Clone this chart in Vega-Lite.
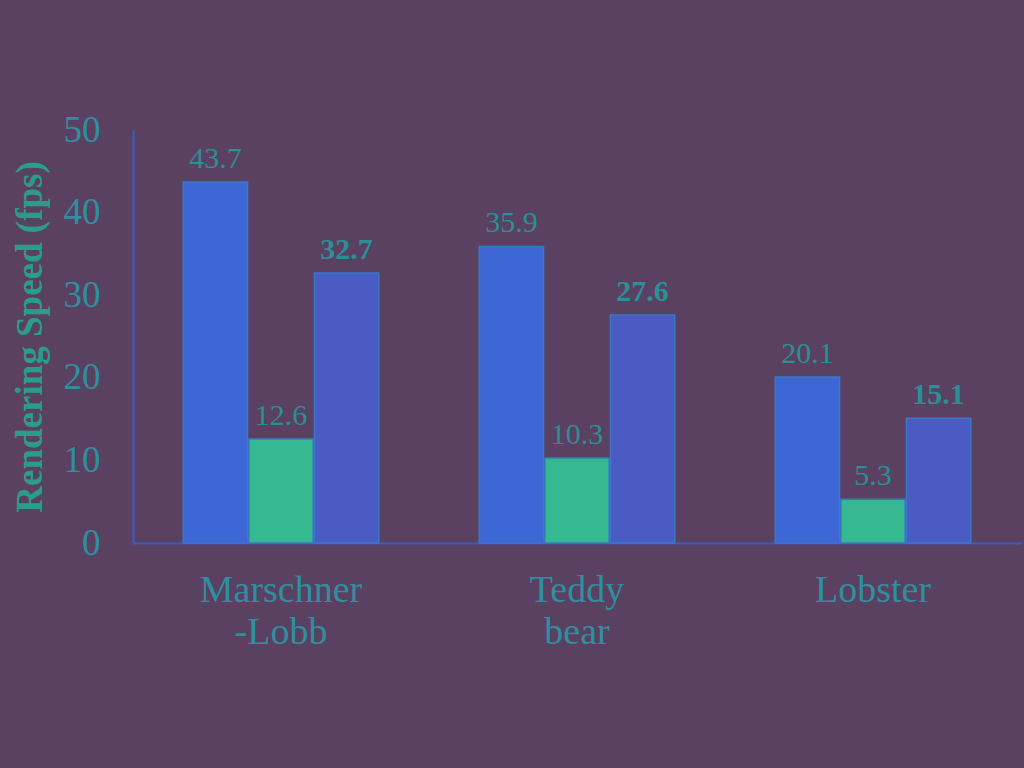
{
  "$schema": "https://vega.github.io/schema/vega-lite/v6.json",
  "width": 888,
  "height": 413,
  "autosize": "none",
  "padding": {"left": 133, "top": 130, "right": 3, "bottom": 225},
  "background": "#5a4161",
  "view": {"stroke": null},
  "data": {
    "values": [
      {"model": "Marschner-Lobb", "method": "A", "fps": 43.7},
      {"model": "Marschner-Lobb", "method": "B", "fps": 12.6},
      {"model": "Marschner-Lobb", "method": "C", "fps": 32.7},
      {"model": "Teddy bear", "method": "A", "fps": 35.9},
      {"model": "Teddy bear", "method": "B", "fps": 10.3},
      {"model": "Teddy bear", "method": "C", "fps": 27.6},
      {"model": "Lobster", "method": "A", "fps": 20.1},
      {"model": "Lobster", "method": "B", "fps": 5.3},
      {"model": "Lobster", "method": "C", "fps": 15.1}
    ]
  },
  "encoding": {
    "x": {
      "field": "model",
      "type": "nominal",
      "sort": ["Marschner-Lobb", "Teddy bear", "Lobster"],
      "title": null,
      "scale": {"paddingInner": 0.34, "paddingOuter": 0.17},
      "axis": {
        "labelAngle": 0,
        "labelFont": "Liberation Serif",
        "labelFontSize": 38,
        "labelColor": "#2f8fa0",
        "labelPadding": 47,
        "labelLineHeight": 42,
        "labelBaseline": "middle",
        "ticks": false,
        "domainColor": "#3d5cc2",
        "domainWidth": 2,
        "labelExpr": "datum.label == 'Marschner-Lobb' ? ['Marschner', '-Lobb'] : datum.label == 'Teddy bear' ? ['Teddy', 'bear'] : datum.label"
      }
    },
    "xOffset": {"field": "method", "type": "nominal", "sort": ["A", "B", "C"], "scale": {"domain": ["A", "B", "C"], "paddingInner": 0.02}},
    "y": {
      "field": "fps",
      "type": "quantitative",
      "title": "Rendering Speed (fps)",
      "scale": {"domain": [0, 50]},
      "axis": {
        "values": [0, 10, 20, 30, 40, 50],
        "grid": false,
        "ticks": false,
        "labelFont": "Liberation Serif",
        "labelFontSize": 37,
        "labelColor": "#2f8fa0",
        "labelPadding": 33,
        "domainColor": "#3d5cc2",
        "domainWidth": 2,
        "titleFont": "Liberation Serif",
        "titleFontSize": 37,
        "titleFontWeight": "bold",
        "titleColor": "#2a9c8c",
        "titlePadding": 14
      }
    }
  },
  "layer": [
    {
      "mark": {"type": "bar", "stroke": "#3a78c8", "strokeWidth": 1.5},
      "encoding": {
        "color": {
          "field": "method",
          "type": "nominal",
          "legend": null,
          "scale": {"domain": ["A", "B", "C"], "range": ["#3b66d4", "#36b890", "#4a5cc4"]}
        }
      }
    },
    {
      "transform": [{"filter": "datum.method != 'C'"}],
      "mark": {"type": "text", "dy": -23, "font": "Liberation Serif", "fontSize": 30, "color": "#2b8f96"},
      "encoding": {
        "text": {"field": "fps", "type": "quantitative", "format": ".1f"}
      }
    },
    {
      "transform": [{"filter": "datum.method == 'C'"}],
      "mark": {"type": "text", "dy": -23, "font": "Liberation Serif", "fontSize": 30, "fontWeight": "bold", "color": "#2b8f96"},
      "encoding": {
        "text": {"field": "fps", "type": "quantitative", "format": ".1f"}
      }
    }
  ]
}
